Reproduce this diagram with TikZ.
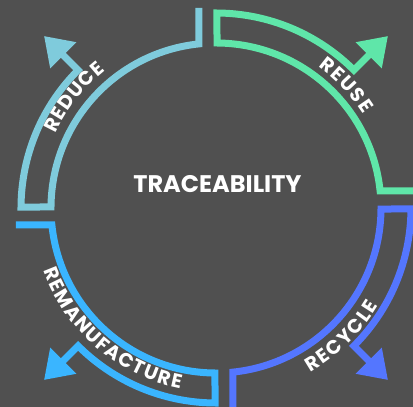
\documentclass[tikz,border=0pt]{standalone}
\usepackage{fontspec}
\setmainfont{Poppins}
\usetikzlibrary{decorations.text}
\definecolor{bg}{HTML}{505050}
\definecolor{cgreen}{HTML}{5FE6A9}
\definecolor{cblue}{HTML}{5476FF}
\definecolor{csky}{HTML}{3AB5FF}
\definecolor{clight}{HTML}{7FCBDC}
\newcommand\lblfont{\fontsize{19.5}{19.5}\selectfont\bfseries}
\begin{document}
\begin{tikzpicture}[x=1pt,y=1pt,
  band/.style={line width=7pt, miter limit=10},
  curvelabel/.style={decorate, decoration={text along path, text color=white, text align={fit to path}, text={|\lblfont|#1}}}]
\useasboundingbox (-216,-199) rectangle (197,208);
\clip (-216,-199) rectangle (197,208);
\fill[bg] (-216,-199) rectangle (197,208);
\foreach \rot/\col in {0/cgreen, -90/cblue, 180/csky, 90/clight}{
 \begin{scope}[rotate=\rot]
  \draw[band, draw=\col] (200,17) -- (164.12,17) arc[start angle=5.91, end angle=89.65, radius=165pt] -- (89.71:195pt) arc[start angle=89.71, end angle=45, radius=195pt] -- (45:220pt);
  \fill[\col] (171.8,171.8) -- (139.65,165.8) -- (165.8,139.65) -- cycle;
 \end{scope}
}
\path[curvelabel=REUSE] (54:174.7pt) arc[start angle=54, end angle=32.6, radius=174.7pt];
\path[curvelabel=REDUCE] (155.1:176.7pt) arc[start angle=155.1, end angle=128.8, radius=176.7pt];
\path[curvelabel=RECYCLE] (-60.2:189.3pt) arc[start angle=-60.2, end angle=-31.0, radius=189.3pt];
\path[curvelabel=REMANUFACTURE] (-160:183.8pt) arc[start angle=-160, end angle=-101.2, radius=183.8pt];
\node[text=white, font=\fontsize{24}{24}\selectfont\bfseries, anchor=base, inner sep=0pt] (title) at (1.5,15) {TRACEABILITY};
\end{tikzpicture}
\end{document}
